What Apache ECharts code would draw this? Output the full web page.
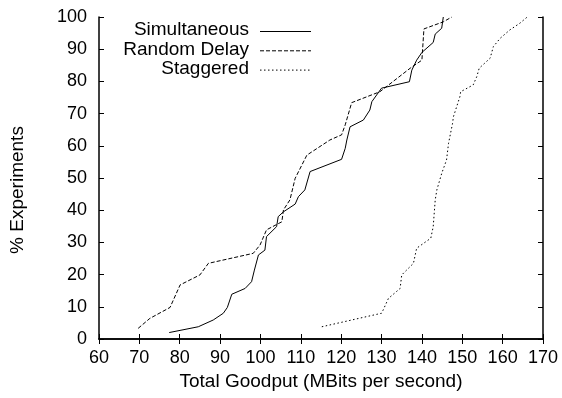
<!DOCTYPE html>
<html>
<head>
<meta charset="utf-8">
<script src="https://cdn.jsdelivr.net/npm/echarts@6/dist/echarts.min.js"></script>
<style>html,body{margin:0;padding:0;background:#fff}#c{width:562px;height:398px}</style>
</head>
<body>
<div id="c"></div>
<script>
var seriesNames = ['Simultaneous', 'Random Delay', 'Staggered'];
var xTicks = [60, 70, 80, 90, 100, 110, 120, 130, 140, 150, 160, 170];
var yTicks = [0, 10, 20, 30, 40, 50, 60, 70, 80, 90, 100];

var simultaneous = [
  [77.4, 2.0], [84.6, 3.8], [88.3, 5.9], [90.8, 8.0], [91.8, 9.8], [92.9, 13.9],
  [96.2, 15.7], [97.8, 17.8], [98.5, 21.4], [99.5, 26.1], [101.1, 27.6], [101.5, 31.8],
  [104.0, 34.9], [104.4, 38.0], [105.7, 39.5], [108.6, 41.9], [109.4, 44.2], [111.0, 46.3],
  [112.3, 52.0], [120.1, 55.8], [121.0, 59.2], [121.4, 61.8], [122.2, 65.9], [125.5, 68.0],
  [127.1, 71.1], [127.6, 73.7], [130.0, 77.9], [136.9, 79.9], [137.5, 83.5], [138.7, 86.6],
  [140.0, 89.0], [142.8, 92.1], [143.3, 94.7], [144.9, 96.5], [145.3, 100]
];
var randomDelay = [
  [69.7, 3.3], [72.6, 6.4], [77.6, 9.8], [80.1, 16.8], [85.0, 19.9], [87.1, 23.5],
  [98.2, 26.6], [99.9, 29.2], [101.5, 33.9], [105.3, 36.4], [105.7, 40.1], [107.3, 43.2],
  [108.6, 49.9], [111.5, 57.1], [117.2, 61.8], [120.1, 63.4], [121.0, 66.5], [122.6, 73.4],
  [129.6, 76.8], [137.1, 84.1], [140.0, 86.6], [140.5, 96.3], [145.3, 98.5], [147.4, 100]
];
var staggered = [
  [115.2, 3.8], [130.0, 8.0], [130.4, 9.0], [131.7, 12.6], [134.6, 15.7], [135.0, 19.9],
  [137.9, 23.5], [138.7, 28.2], [140.4, 29.7], [142.2, 31.3], [142.8, 34.9], [143.3, 43.2],
  [143.7, 46.3], [144.9, 51.4], [146.1, 55.6], [146.6, 60.8], [147.6, 67.0], [147.8, 69.0],
  [149.4, 75.2], [149.6, 76.8], [152.7, 78.9], [153.6, 81.5], [154.2, 84.1], [156.9, 87.2],
  [157.7, 90.8], [159.4, 93.4], [161.8, 96.0], [164.3, 98.1], [166.1, 100]
];
var dashTypes = ['solid', [4, 2], [1.5, 2.5]];

var font = 'Liberation Sans, Arial, sans-serif';
var chart = echarts.init(document.getElementById('c'), null, {renderer: 'canvas'});

function xAxisCfg(pos, show) {
  return {
    type: 'value', position: pos, min: 60, max: 170, interval: 10,
    name: show ? 'Total Goodput (MBits per second)' : '', nameLocation: 'middle', nameGap: 33,
    nameTextStyle: {color: '#000', fontFamily: font, fontSize: 19},
    axisLine: {show: true, lineStyle: {color: '#000', width: 1.5}},
    axisTick: {show: true, inside: true, length: 5, lineStyle: {color: '#000'}},
    axisLabel: {show: show, color: '#000', fontFamily: font, fontSize: 18, margin: 10},
    splitLine: {show: false}
  };
}
function yAxisCfg(pos, show) {
  return {
    type: 'value', position: pos, min: 0, max: 100, interval: 10,
    axisLine: {show: true, lineStyle: {color: '#000', width: 1.5}},
    axisTick: {show: true, inside: true, length: 5, lineStyle: {color: '#000'}},
    axisLabel: {show: show, color: '#000', fontFamily: font, fontSize: 18, margin: 12},
    splitLine: {show: false}
  };
}

function mk(i, data) {
  return {
    name: seriesNames[i], type: 'line', data: data, symbol: 'none', animation: false,
    lineStyle: {color: '#000', width: 1, type: dashTypes[i]},
    itemStyle: {color: '#000'}
  };
}

var graphics = [{
  type: 'text', x: 18, y: 190, rotation: Math.PI / 2,
  style: {text: '% Experiments', fill: '#000', font: '19px ' + font, textAlign: 'center', textVerticalAlign: 'middle'}
}];
seriesNames.forEach(function (n, i) {
  var y = 31.5 + i * 19.3;
  graphics.push({
    type: 'text', right: 562 - 249, top: y - 11,
    style: {text: n, fill: '#000', font: '19px ' + font, textAlign: 'right'}
  });
  graphics.push({
    type: 'line', shape: {x1: 260, y1: y, x2: 311, y2: y},
    style: {stroke: '#000', lineWidth: 1, lineDash: dashTypes[i] === 'solid' ? null : dashTypes[i]}
  });
});

chart.setOption({
  animation: false,
  backgroundColor: '#fff',
  grid: {left: 99, right: 19, top: 17, bottom: 59, containLabel: false},
  xAxis: [xAxisCfg('bottom', true), xAxisCfg('top', false)],
  yAxis: [yAxisCfg('left', true), yAxisCfg('right', false)],
  graphic: graphics,
  series: [mk(0, simultaneous), mk(1, randomDelay), mk(2, staggered)]
});
</script>
</body>
</html>
